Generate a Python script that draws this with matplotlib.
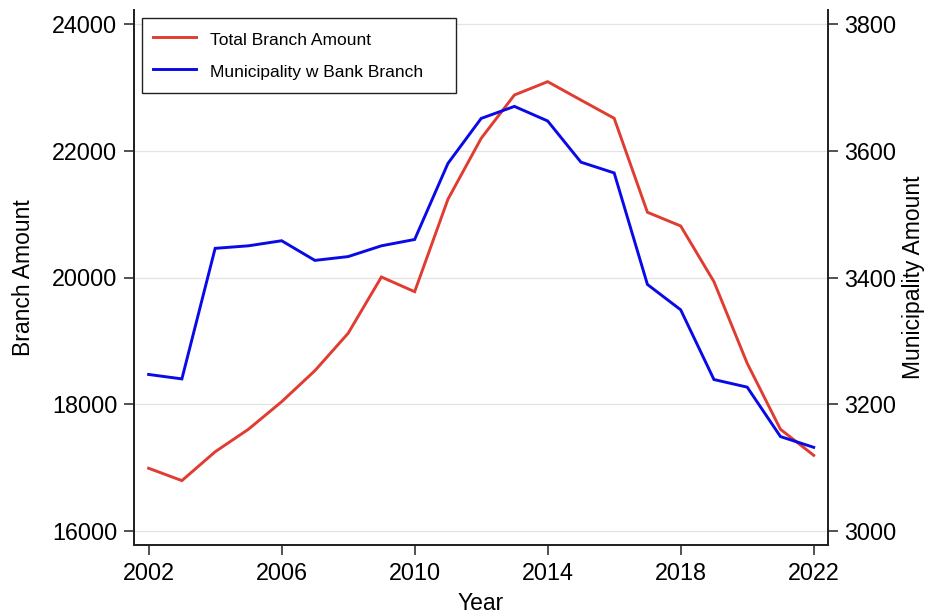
import matplotlib
matplotlib.use("Agg")
import matplotlib.pyplot as plt

plt.rcParams['font.family'] = ['Liberation Sans', 'DejaVu Sans']

years = list(range(2002, 2023))
total_branch = [16990, 16795, 17250, 17605, 18040, 18530, 19120, 20008, 19776, 21234,
                22196, 22880, 23090, 22800, 22512, 21029, 20813, 19934, 18646, 17605, 17194]
municipality = [3247, 3240, 3446, 3450, 3458, 3427, 3433, 3450, 3460, 3580,
                3651, 3670, 3647, 3582, 3565, 3389, 3349, 3239, 3227, 3149, 3132]

left_ticks = [16000, 18000, 20000, 22000, 24000]
right_ticks = [3000, 3200, 3400, 3600, 3800]
x_ticks = [2002, 2006, 2010, 2014, 2018, 2022]

red = '#E03C31'
blue = '#0A0AE6'

fig = plt.figure(figsize=(9.41, 6.15), dpi=100)
ax = fig.add_axes([134/941, 1-545/615, (828-134)/941, (545-10)/615])
ax2 = ax.twinx()

l1, = ax.plot(years, total_branch, color=red, lw=2.1, label='Total Branch Amount', solid_joinstyle='miter')
l2, = ax2.plot(years, municipality, color=blue, lw=2.1, label='Municipality w Bank Branch', solid_joinstyle='miter')

ax.set_xlim(2001.56, 2022.43)
ax.set_ylim(15779, 24221)
ax2.set_ylim(2977.9, 3822.1)

ax.set_xticks(x_ticks)
ax.set_yticks(left_ticks)
ax2.set_yticks(right_ticks)
ax.set_xticklabels([str(v) for v in x_ticks])
ax.set_yticklabels([str(v) for v in left_ticks])
ax2.set_yticklabels([str(v) for v in right_ticks])

ax.grid(axis='y', color='#e3e3e3', lw=0.9)
ax.set_axisbelow(True)

for a in (ax, ax2):
    a.spines['top'].set_visible(False)
    for s in ('left', 'right', 'bottom'):
        a.spines[s].set_linewidth(1.3)
        a.spines[s].set_color('#222222')
    a.tick_params(axis='both', which='major', length=7, width=1.1, labelsize=16.8, pad=5, color='#222222')

ax.set_xlabel('Year', fontsize=16.5, labelpad=5)
ax.set_ylabel('Branch Amount', fontsize=16.5, labelpad=12)
ax2.set_ylabel('Municipality Amount', fontsize=16.5, labelpad=4)

leg = ax.legend(handles=[l1, l2], loc='upper left', bbox_to_anchor=(8/694, 0.0, 314/694, 1 - 8/535),
                mode='expand', fontsize=12.5, frameon=True, fancybox=False,
                edgecolor='#222222', framealpha=1, borderaxespad=0, handlelength=2.5,
                handletextpad=0.8, handleheight=1.5, labelspacing=0.63, borderpad=0.62)
leg.get_frame().set_linewidth(1.0)

fig.savefig('out.png', dpi=100)
